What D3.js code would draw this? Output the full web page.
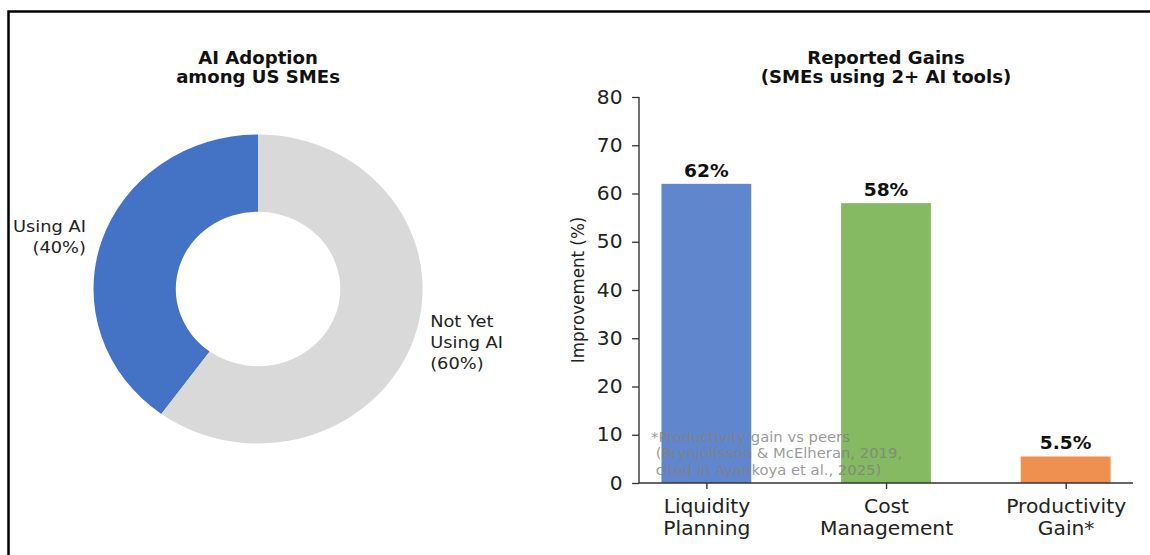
<!DOCTYPE html>
<html>
<head>
<meta charset="utf-8">
<script src="https://cdn.jsdelivr.net/npm/d3@7"></script>
<style>
  html, body { margin: 0; padding: 0; background: #fff; }
  svg { display: block; }
  text { font-family: "DejaVu Sans", sans-serif; }
</style>
</head>
<body>
<div id="chart"></div>
<script>
// ---- data ----
const pieLabels = ["Using AI", "Not Yet Using AI"];
const pieValues = [40, 60];
const pieColors = ["#4472c4", "#d9d9d9"];

const barCategories = [["Liquidity", "Planning"], ["Cost", "Management"], ["Productivity", "Gain*"]];
const barValues = [62, 58, 5.5];
const barValueLabels = ["62%", "58%", "5.5%"];
const barColors = ["#4472c4", "#70ad47", "#ed7d31"];
const yTicks = [0, 10, 20, 30, 40, 50, 60, 70, 80];

const footnoteLines = ["*Productivity gain vs peers", "(Brynjolfsson & McElheran, 2019,", "cited in Ayankoya et al., 2025)"];

// ---- layout ----
const W = 1150, H = 555;
const SX = 1.065;               // horizontal stretch of the drawing
const svg = d3.select("#chart").append("svg").attr("width", W).attr("height", H);

// outer frame
svg.append("rect")
  .attr("x", 8.5).attr("y", 11.5).attr("width", W + 20).attr("height", H + 20)
  .attr("fill", "none").attr("stroke", "#000").attr("stroke-width", 2.5);

const g = svg.append("g").attr("transform", `scale(${SX},1)`);

// ---- donut ----
const pieCx = 242.3, pieCy = 289, pieR = 154.5;
const pieG = g.append("g").attr("transform", `translate(${pieCx},${pieCy})`);

// counter-clockwise from 12 o'clock
const pie = d3.pie().sort(null).value(d => d)
  .startAngle(0).endAngle(-2 * Math.PI);
const arcs = pie(pieValues);
const arc = d3.arc().innerRadius(pieR * 0.5).outerRadius(pieR);

pieG.selectAll("path.slice").data(arcs).join("path")
  .attr("class", "slice")
  .attr("d", arc)
  .attr("fill", (d, i) => pieColors[i]);

const pieFont = 16.7;
arcs.forEach((d, i) => {
  const mid = (d.startAngle + d.endAngle) / 2;
  const lx = Math.sin(mid) * pieR * 1.1;
  const ly = -Math.cos(mid) * pieR * 1.1;
  const lines = [...(i === 0 ? ["Using AI"] : ["Not Yet", "Using AI"]), `(${pieValues[i]}%)`];
  const lh = 21;
  const t = pieG.append("text")
    .attr("text-anchor", lx < 0 ? "end" : "start")
    .attr("font-size", pieFont)
    .attr("fill", "#222");
  lines.forEach((ln, k) => {
    t.append("tspan")
      .attr("x", lx)
      .attr("y", ly + (k - (lines.length - 1) / 2) * lh + pieFont * 0.36)
      .text(ln);
  });
});

// left title
const titleFont = 17;
const leftTitle = g.append("text").attr("text-anchor", "middle")
  .attr("font-size", titleFont).attr("font-weight", "bold").attr("fill", "#111");
leftTitle.append("tspan").attr("x", pieCx).attr("y", 64).text("AI Adoption");
leftTitle.append("tspan").attr("x", pieCx).attr("y", 83).text("among US SMEs");

// ---- bar chart ----
const x0 = 639 / SX, x1 = 1133 / SX;
const x = d3.scaleLinear().domain([-0.375, 2.375]).range([x0, x1]);
const y = d3.scaleLinear().domain([0, 80]).range([483, 97]);
const barW = 0.5;

const barG = g.append("g");
barG.selectAll("rect.bar").data(barValues).join("rect")
  .attr("class", "bar")
  .attr("x", (d, i) => x(i - barW / 2))
  .attr("width", x(barW) - x(0))
  .attr("y", d => y(d))
  .attr("height", d => y(0) - y(d))
  .attr("fill", (d, i) => barColors[i])
  .attr("fill-opacity", 0.85);

// value labels
const valFont = 17.5;
barG.selectAll("text.val").data(barValues).join("text")
  .attr("class", "val")
  .attr("x", (d, i) => x(i))
  .attr("y", d => y(d) - 7)
  .attr("text-anchor", "middle")
  .attr("font-size", valFont).attr("font-weight", "bold").attr("fill", "#111")
  .text((d, i) => barValueLabels[i]);

// footnote
const fnFont = 13.9;
const fn = g.append("text").attr("font-size", fnFont).attr("fill", "#808080").attr("fill-opacity", 0.8);
footnoteLines.forEach((ln, k) => {
  fn.append("tspan").attr("x", 651 / SX + (k > 0 ? 4.4 : 0)).attr("y", 442 + k * 16.5).text(ln);
});

// axes
const tickFont = 19;
const yAxis = d3.axisLeft(y).tickValues(yTicks).tickSize(6.5).tickPadding(9).tickFormat(d3.format("d"));
const yAx = g.append("g").attr("transform", `translate(${x0},0)`).call(yAxis);
yAx.select(".domain").attr("d", `M0,${y(0)}V${y(80)}`);
yAx.selectAll("text").attr("font-size", tickFont).attr("font-family", "DejaVu Sans").attr("fill", "#222");

const xAxis = d3.axisBottom(x).tickValues(d3.range(barCategories.length)).tickSize(6).tickFormat(() => "");
const xAx = g.append("g").attr("transform", `translate(0,${y(0)})`).call(xAxis);
xAx.select(".domain").attr("d", `M${x0},0H${x1}`);
xAx.selectAll(".tick").each(function (d) {
  const t = d3.select(this).append("text")
    .attr("text-anchor", "middle")
    .attr("font-size", tickFont).attr("font-family", "DejaVu Sans").attr("fill", "#222");
  barCategories[d].forEach((ln, k) => {
    t.append("tspan").attr("x", 0).attr("y", 30.5 + k * 21.7).text(ln);
  });
});
[yAx, xAx].forEach(a => {
  a.select(".domain").attr("stroke", "#333").attr("stroke-width", 1.3);
  a.selectAll(".tick line").attr("stroke", "#333").attr("stroke-width", 1.3);
});

// y label
g.append("text")
  .attr("transform", `translate(${578 / SX},${(y(0) + y(80)) / 2}) rotate(-90)`)
  .attr("text-anchor", "middle").attr("dy", "0.36em")
  .attr("font-size", 16.7).attr("fill", "#222")
  .text("Improvement (%)");

// right title
const rightTitle = g.append("text").attr("text-anchor", "middle")
  .attr("font-size", titleFont).attr("font-weight", "bold").attr("fill", "#111");
rightTitle.append("tspan").attr("x", (x0 + x1) / 2).attr("y", 64).text("Reported Gains");
rightTitle.append("tspan").attr("x", (x0 + x1) / 2).attr("y", 83).text("(SMEs using 2+ AI tools)");
</script>
</body>
</html>
